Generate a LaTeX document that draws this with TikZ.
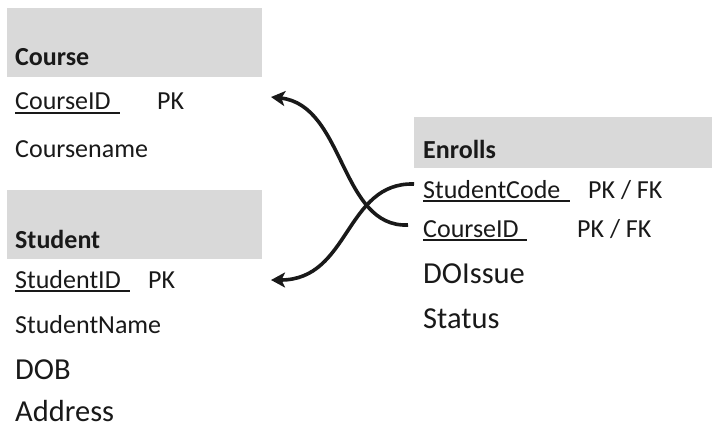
\documentclass[tikz,border=0pt]{standalone}
\usepackage{fontspec}
\setmainfont{Carlito}
\usetikzlibrary{arrows.meta}
\definecolor{headgray}{RGB}{217,217,217}
\definecolor{ink}{RGB}{25,25,25}
\newcommand\keyline[2]{\rlap{\rule[-4pt]{#2}{1.6pt}}#1}

\begin{document}
\begin{tikzpicture}[x=1pt,y=-1pt,
  title/.style={anchor=base west,inner sep=0pt,text=ink,font=\bfseries\fontsize{26}{30}\selectfont},
  field/.style={anchor=base west,inner sep=0pt,text=ink,font=\fontsize{26}{30}\selectfont},
  bigfield/.style={field,font=\fontsize{30.5}{34}\selectfont},
  link/.style={ink,line width=3.6pt,-{Stealth[length=14pt,width=15pt,inset=3.5pt]}}
]
  \useasboundingbox (0,0) rectangle (712,428);

  % Course
  \fill[headgray] (7,8) rectangle (262,77);
  \node[title] (course) at (15,66) {Course};
  \node[field] (cid) at (15,110) {\keyline{CourseID}{105pt}};
  \node[field] (cidpk) at (157,110) {PK};
  \node[field] (cname) at (15,157) {Coursename};

  % Student
  \fill[headgray] (7,190) rectangle (262,259);
  \node[title] (student) at (15,248) {Student};
  \node[field] (sid) at (15,288) {\keyline{StudentID}{115pt}};
  \node[field] (sidpk) at (148,288) {PK};
  \node[field] (sname) at (15,333) {StudentName};
  \node[bigfield] (dob) at (15,379) {DOB};
  \node[bigfield] (addr) at (15,421) {Address};

  % Enrolls
  \fill[headgray] (414,117) rectangle (712,168);
  \node[title] (enrolls) at (423,158) {Enrolls};
  \node[field] (scode) at (423,198) {\keyline{StudentCode}{147pt}};
  \node[field] (scodepk) at (588,198) {PK / FK};
  \node[field] (ecid) at (423,237) {\keyline{CourseID}{104pt}};
  \node[field] (ecidpk) at (577,237) {PK / FK};
  \node[bigfield] (doissue) at (423,283) {DOIssue};
  \node[bigfield] (status) at (423,328) {Status};

  \coordinate (cidport) at (271,97);
  \coordinate (sidport) at (271,280);
  \coordinate (scodeport) at (414,184);
  \coordinate (ecidport) at (408,225);

  \draw[link] (ecidport) .. controls (340,228) and (345,105) .. (cidport);
  \draw[link] (scodeport) .. controls (345,182) and (350,280) .. (sidport);
\end{tikzpicture}
\end{document}
